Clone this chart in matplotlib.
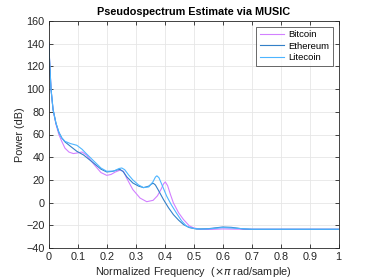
# -*- coding: utf-8 -*-
"""
MUSIC pseudospectrum of three coin price series, redrawn in matplotlib.
"""
import matplotlib
matplotlib.use("Agg")
import matplotlib.pyplot as plt

# Normalized frequency (x pi rad/sample) and power (dB)
bitcoin_f = [0, 0.004, 0.008, 0.015, 0.025, 0.035, 0.045, 0.056, 0.07, 0.085,
             0.1, 0.115, 0.13, 0.155, 0.18, 0.2, 0.215, 0.23, 0.246, 0.258,
             0.27, 0.29, 0.315, 0.338, 0.36, 0.375, 0.388, 0.396, 0.402,
             0.41, 0.42, 0.43, 0.448, 0.465, 0.485, 0.5, 0.523, 0.56, 0.6,
             0.65, 0.7, 0.8, 0.9, 1.0]
bitcoin_db = [141, 120, 100, 82, 69, 60, 54, 48, 44.5, 43.2,
              43.8, 44.6, 42, 34, 26.5, 24, 24.8, 27, 28.6, 27.5,
              21, 11.5, 4, 0.8, 2, 6, 12, 16.5, 18.2,
              15, 7, -0.3, -9, -15, -20.5, -22.3, -23.5, -23.6, -23.2,
              -23.4, -23.5, -23.5, -23.5, -23.5]

ethereum_f = [0, 0.004, 0.008, 0.015, 0.025, 0.035, 0.045, 0.056, 0.075, 0.097,
              0.12, 0.154, 0.18, 0.2, 0.22, 0.236, 0.246, 0.256, 0.27, 0.29,
              0.31, 0.327, 0.345, 0.355, 0.361, 0.368, 0.378, 0.396, 0.413,
              0.43, 0.448, 0.465, 0.485, 0.51, 0.55, 0.6, 0.63, 0.67, 0.7,
              0.8, 0.9, 1.0]
ethereum_db = [141, 120, 100, 82, 70, 62, 57, 53.5, 49.6, 45.2,
               42, 35, 29.5, 27, 27.5, 28.8, 29.2, 27.5, 22.5, 17.3,
               14.5, 13.2, 14.5, 16.5, 17, 15.5, 11, 2.6, -4.5,
               -10.6, -15.5, -19.4, -22, -23.3, -23, -21.5, -21.8, -23.2, -23.5,
               -23.5, -23.5, -23.5]

litecoin_f = [0, 0.004, 0.008, 0.015, 0.025, 0.035, 0.045, 0.056, 0.075, 0.097,
              0.115, 0.13, 0.154, 0.18, 0.2, 0.225, 0.242, 0.252, 0.262, 0.275,
              0.29, 0.31, 0.327, 0.345, 0.36, 0.368, 0.373, 0.38, 0.39,
              0.407, 0.423, 0.44, 0.458, 0.476, 0.5, 0.53, 0.56, 0.6, 0.64,
              0.7, 0.8, 0.9, 1.0]
litecoin_db = [141, 120, 100, 82, 70, 62, 57, 54, 52, 50.5,
               47, 43, 37, 30.5, 27.6, 27.8, 30, 30.5, 29, 24.5,
               20, 15.5, 13.2, 13.8, 18.5, 22.5, 23.6, 22, 16,
               5.6, -2, -9, -16, -21, -22.8, -23.4, -23, -22, -22.5,
               -23.5, -23.5, -23.5, -23.5]

series = [("Bitcoin", bitcoin_f, bitcoin_db, "#d280ff"),
          ("Ethereum", ethereum_f, ethereum_db, "#3380c8"),
          ("Litecoin", litecoin_f, litecoin_db, "#4db5ff")]

plt.rcParams["font.family"] = ["Liberation Sans", "DejaVu Sans"]
plt.rcParams["mathtext.fontset"] = "dejavusans"

fig = plt.figure(figsize=(3.74, 2.8), dpi=100)
ax = fig.add_axes([48.7 / 374, 32 / 280, 290 / 374, 227 / 280])

for name, f, db, col in series:
    ax.plot(f, db, color=col, lw=0.8, label=name)

# MATLAB-ish look
ax.set_xlim(0, 1)
ax.set_ylim(-40, 160)
ax.set_xticks([0, 0.1, 0.2, 0.3, 0.4, 0.5, 0.6, 0.7, 0.8, 0.9, 1])
ax.set_xticklabels(["0", "0.1", "0.2", "0.3", "0.4", "0.5", "0.6", "0.7",
                    "0.8", "0.9", "1"])
ax.set_yticks(range(-40, 161, 20))
ax.grid(True, color="#e6e6e6", lw=0.6)
ax.set_axisbelow(True)
ax.tick_params(direction="in", length=3, width=0.6, labelsize=7.8,
               colors="#262626", top=True, right=True, pad=3)
for s in ax.spines.values():
    s.set_color("#262626")
    s.set_linewidth(0.6)

ax.set_title("Pseudospectrum Estimate via MUSIC", fontsize=7.8,
             fontweight="bold", pad=4.5)
ax.set_xlabel(r"Normalized Frequency  ($\times\pi$ rad/sample)", fontsize=7.8,
              color="#262626", labelpad=2)
ax.set_ylabel("Power (dB)", fontsize=7.8, color="#262626", labelpad=0.5)

leg = ax.legend(loc="upper right", fontsize=6.8, frameon=True, fancybox=False,
                edgecolor="#262626", handlelength=2.6, handletextpad=0.4,
                borderpad=0.4, labelspacing=0.25, borderaxespad=0.6)
leg.get_frame().set_linewidth(0.6)

fig.savefig("out.png", dpi=100)
